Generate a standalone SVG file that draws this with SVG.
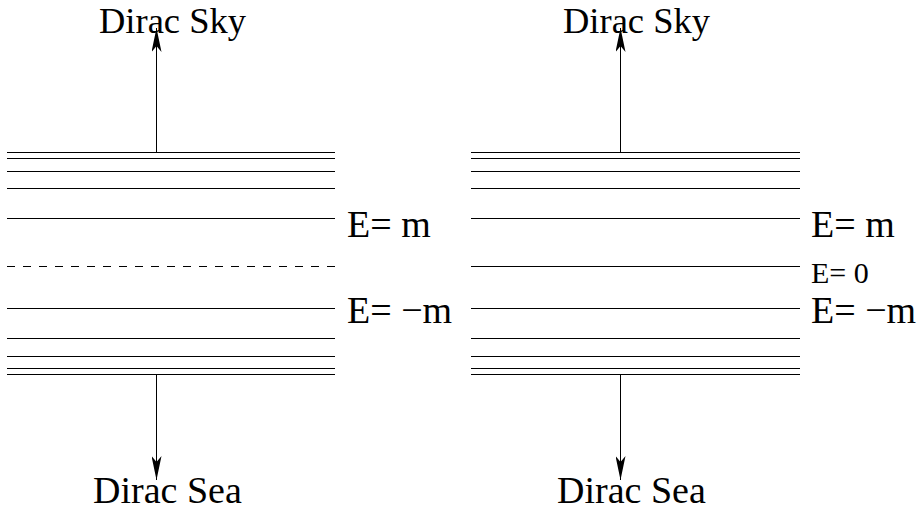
<svg xmlns="http://www.w3.org/2000/svg" width="924" height="510" viewBox="0 0 924 510">
<style>
.lv{stroke:#000;stroke-width:1;fill:none}
text{font-family:"Liberation Serif","DejaVu Serif","Times New Roman",serif;fill:#000}
.t{font-size:38px}
.k{font-size:36.5px}
.s{font-size:30px}
</style>
<defs>
<marker id="ah" markerWidth="24" markerHeight="10" refX="24" refY="5" orient="auto" markerUnits="userSpaceOnUse" viewBox="0 0 24 10">
<path d="M0,0 L24,5 L0,10 L6,5 Z" fill="#000"/>
</marker>
</defs>
<g id="left-levels" class="lv">
<line x1="7" y1="152.5" x2="335" y2="152.5"/>
<line x1="7" y1="158.5" x2="335" y2="158.5"/>
<line x1="7" y1="171.5" x2="335" y2="171.5"/>
<line x1="7" y1="188.5" x2="335" y2="188.5"/>
<line x1="7" y1="218.5" x2="335" y2="218.5"/>
<line x1="7" y1="266.5" x2="335" y2="266.5" stroke-dasharray="8,8"/>
<line x1="7" y1="308.5" x2="335" y2="308.5"/>
<line x1="7" y1="338.5" x2="335" y2="338.5"/>
<line x1="7" y1="356.5" x2="335" y2="356.5"/>
<line x1="7" y1="368.5" x2="335" y2="368.5"/>
<line x1="7" y1="374.5" x2="335" y2="374.5"/>
</g>
<g id="right-levels" class="lv">
<line x1="471" y1="152.5" x2="800" y2="152.5"/>
<line x1="471" y1="158.5" x2="800" y2="158.5"/>
<line x1="471" y1="171.5" x2="800" y2="171.5"/>
<line x1="471" y1="188.5" x2="800" y2="188.5"/>
<line x1="471" y1="218.5" x2="800" y2="218.5"/>
<line x1="471" y1="266.5" x2="800" y2="266.5"/>
<line x1="471" y1="308.5" x2="800" y2="308.5"/>
<line x1="471" y1="338.5" x2="800" y2="338.5"/>
<line x1="471" y1="356.5" x2="800" y2="356.5"/>
<line x1="471" y1="368.5" x2="800" y2="368.5"/>
<line x1="471" y1="374.5" x2="800" y2="374.5"/>
</g>
<g id="connectors" class="lv">
<line x1="156.5" y1="152" x2="156.5" y2="28" marker-end="url(#ah)"/>
<line x1="156.5" y1="375" x2="156.5" y2="480" marker-end="url(#ah)"/>
<line x1="620.5" y1="152" x2="620.5" y2="28" marker-end="url(#ah)"/>
<line x1="620.5" y1="375" x2="620.5" y2="480" marker-end="url(#ah)"/>
</g>
<g id="labels">
<text class="k" x="99" y="32.5">Dirac Sky</text>
<text class="k" x="563" y="32.5">Dirac Sky</text>
<text class="t" x="93" y="503">Dirac Sea</text>
<text class="t" x="557" y="503">Dirac Sea</text>
<text class="t" x="347" y="237">E= m</text>
<text class="t" x="811" y="237">E= m</text>
<text class="s" x="811" y="283">E= 0</text>
<text class="t" x="347" y="323">E= −m</text>
<text class="t" x="811" y="323">E= −m</text>
</g>
</svg>
